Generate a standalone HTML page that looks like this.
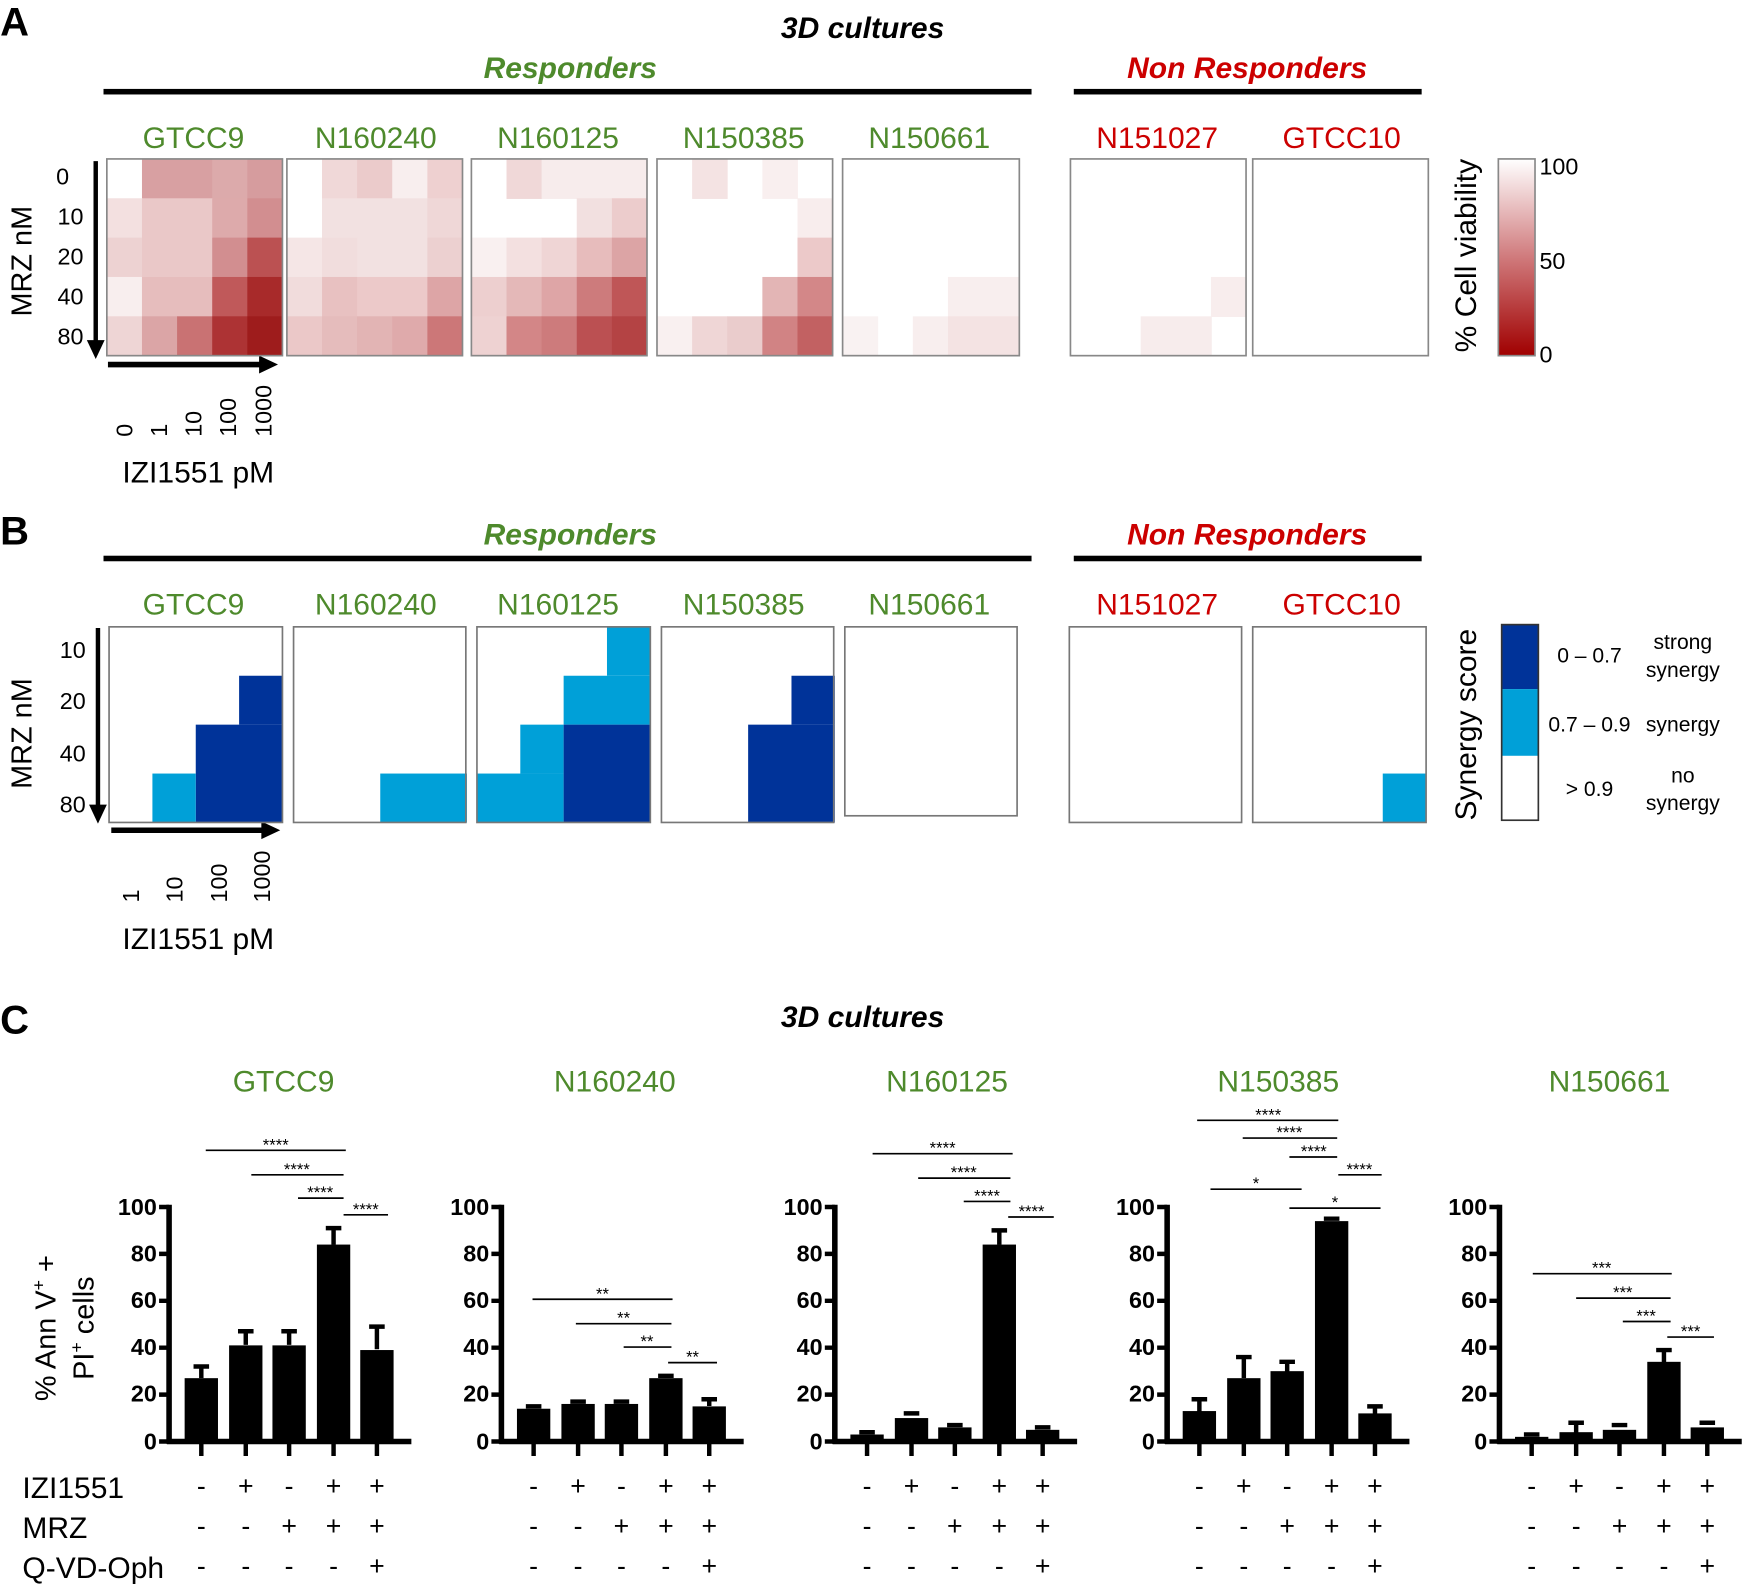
<!DOCTYPE html>
<html><head><meta charset="utf-8"><style>html,body{margin:0;padding:0;background:#fff}svg{display:block}</style></head><body>
<svg width="1743" height="1586" viewBox="0 0 1568 1427" xmlns="http://www.w3.org/2000/svg" font-family="Liberation Sans, Arial, sans-serif">
<rect width="1568" height="1427" fill="#fff"/>
<!-- Panel A -->
<text x="0" y="32" font-size="36" font-weight="bold">A</text>
<text x="776" y="34" font-size="27" font-weight="bold" font-style="italic" text-anchor="middle">3D cultures</text>
<text x="513" y="70" font-size="27" font-weight="bold" font-style="italic" text-anchor="middle" fill="#4e8a2c">Responders</text>
<text x="1122" y="70" font-size="27" font-weight="bold" font-style="italic" text-anchor="middle" fill="#cc0000">Non Responders</text>
<rect x="93" y="80" width="835" height="5"/><rect x="966" y="80" width="313" height="5"/>
<g font-size="27" text-anchor="middle" fill="#4e8a2c">
<text x="174" y="133">GTCC9</text><text x="338" y="133">N160240</text><text x="502" y="133">N160125</text><text x="669" y="133">N150385</text><text x="836" y="133">N150661</text></g>
<g font-size="27" text-anchor="middle" fill="#cc0000"><text x="1041" y="133">N151027</text><text x="1207" y="133">GTCC10</text></g>
<g font-size="21" text-anchor="end"><text x="62" y="166">0</text><text x="75" y="202">10</text><text x="75" y="238">20</text><text x="75" y="274">40</text><text x="75" y="310">80</text></g>
<text transform="translate(28,235) rotate(-90)" font-size="26" text-anchor="middle">MRZ nM</text>
<line x1="86" y1="145" x2="86" y2="308" stroke="#000" stroke-width="4"/><polygon points="78,306 94,306 86,323"/>
<line x1="97" y1="328" x2="235" y2="328" stroke="#000" stroke-width="5"/><polygon points="233,320 233,336 250,328"/>
<g font-size="21"><text transform="translate(119,393) rotate(-90)">0</text><text transform="translate(150,393) rotate(-90)">1</text><text transform="translate(181,393) rotate(-90)">10</text><text transform="translate(212,393) rotate(-90)">100</text><text transform="translate(244,393) rotate(-90)">1000</text></g>
<text x="110" y="434" font-size="27">IZI1551 pM</text>
<!-- heatmaps A -->
<g transform="translate(96,143)">
<rect x="31.6" y="0" width="64" height="36" fill="#d8a0a2"/><rect x="94.8" y="0" width="32" height="36" fill="#dcaaab"/><rect x="126.4" y="0" width="32" height="36" fill="#d69c9e"/>
<rect x="0" y="35.4" width="32" height="36" fill="#f3e0e0"/><rect x="31.6" y="35.4" width="64" height="36" fill="#eac8c8"/><rect x="94.8" y="35.4" width="32" height="36" fill="#ddaaab"/><rect x="126.4" y="35.4" width="32" height="36" fill="#d28e90"/>
<rect x="0" y="70.8" width="32" height="36" fill="#edd2d2"/><rect x="31.6" y="70.8" width="64" height="36" fill="#eac8c8"/><rect x="94.8" y="70.8" width="32" height="36" fill="#d28e90"/><rect x="126.4" y="70.8" width="32" height="36" fill="#bb5152"/>
<rect x="0" y="106.2" width="32" height="36" fill="#f8eeee"/><rect x="31.6" y="106.2" width="64" height="36" fill="#e6bdbd"/><rect x="94.8" y="106.2" width="32" height="36" fill="#c0595a"/><rect x="126.4" y="106.2" width="32" height="36" fill="#a82a2a"/>
<rect x="0" y="141.6" width="32" height="35.4" fill="#eed5d5"/><rect x="31.6" y="141.6" width="32" height="35.4" fill="#dba5a6"/><rect x="63.2" y="141.6" width="32" height="35.4" fill="#c97273"/><rect x="94.8" y="141.6" width="32" height="35.4" fill="#ad3334"/><rect x="126.4" y="141.6" width="32" height="35.4" fill="#9e1c1c"/>
<rect x="0" y="0" width="158" height="177" fill="none" stroke="#888" stroke-width="1.5"/></g>
<g transform="translate(258,143)">
<rect x="31.6" y="0" width="32" height="36" fill="#f0d8d8"/><rect x="63.2" y="0" width="32" height="36" fill="#ebcbcb"/><rect x="94.8" y="0" width="32" height="36" fill="#f8eeee"/><rect x="126.4" y="0" width="32" height="36" fill="#eed0d0"/>
<rect x="31.6" y="35.4" width="96" height="36" fill="#f2e1e1"/><rect x="126.4" y="35.4" width="32" height="36" fill="#efd7d7"/>
<rect x="0" y="70.8" width="32" height="36" fill="#f5e6e6"/><rect x="31.6" y="70.8" width="32" height="36" fill="#f1dddd"/><rect x="63.2" y="70.8" width="64" height="36" fill="#f2e1e1"/><rect x="126.4" y="70.8" width="32" height="36" fill="#ecd0d0"/>
<rect x="0" y="106.2" width="32" height="36" fill="#f1dcdc"/><rect x="31.6" y="106.2" width="32" height="36" fill="#e8c1c1"/><rect x="63.2" y="106.2" width="64" height="36" fill="#ecc9c9"/><rect x="126.4" y="106.2" width="32" height="36" fill="#dda5a6"/>
<rect x="0" y="141.6" width="32" height="35.4" fill="#ebc8c8"/><rect x="31.6" y="141.6" width="32" height="35.4" fill="#e5bcbc"/><rect x="63.2" y="141.6" width="32" height="35.4" fill="#e2b4b4"/><rect x="94.8" y="141.6" width="32" height="35.4" fill="#dfaaab"/><rect x="126.4" y="141.6" width="32" height="35.4" fill="#cc7778"/>
<rect x="0" y="0" width="158" height="177" fill="none" stroke="#888" stroke-width="1.5"/></g>
<g transform="translate(424,143)">
<rect x="31.6" y="0" width="32" height="36" fill="#f0d8d8"/><rect x="63.2" y="0" width="95" height="36" fill="#f7ecec"/>
<rect x="94.8" y="35.4" width="32" height="36" fill="#f2e0e0"/><rect x="126.4" y="35.4" width="32" height="36" fill="#eccccc"/>
<rect x="0" y="70.8" width="32" height="36" fill="#f9f0f0"/><rect x="31.6" y="70.8" width="32" height="36" fill="#f3e0e0"/><rect x="63.2" y="70.8" width="32" height="36" fill="#efd5d5"/><rect x="94.8" y="70.8" width="32" height="36" fill="#e7bcbc"/><rect x="126.4" y="70.8" width="32" height="36" fill="#dca4a5"/>
<rect x="0" y="106.2" width="32" height="36" fill="#edcfcf"/><rect x="31.6" y="106.2" width="32" height="36" fill="#e4b8b8"/><rect x="63.2" y="106.2" width="32" height="36" fill="#dea5a6"/><rect x="94.8" y="106.2" width="32" height="36" fill="#cd7b7c"/><rect x="126.4" y="106.2" width="32" height="36" fill="#bf5657"/>
<rect x="0" y="141.6" width="32" height="35.4" fill="#eed2d2"/><rect x="31.6" y="141.6" width="32" height="35.4" fill="#d38687"/><rect x="63.2" y="141.6" width="32" height="35.4" fill="#cd7b7c"/><rect x="94.8" y="141.6" width="32" height="35.4" fill="#bb5052"/><rect x="126.4" y="141.6" width="32" height="35.4" fill="#b44344"/>
<rect x="0" y="0" width="158" height="177" fill="none" stroke="#888" stroke-width="1.5"/></g>
<g transform="translate(591,143)">
<rect x="31.6" y="0" width="32" height="36" fill="#f4e3e3"/><rect x="94.8" y="0" width="32" height="36" fill="#f9efef"/>
<rect x="126.4" y="35.4" width="32" height="36" fill="#f8eded"/><rect x="126.4" y="70.8" width="32" height="36" fill="#ecc9c9"/>
<rect x="94.8" y="106.2" width="32" height="36" fill="#e3b5b5"/><rect x="126.4" y="106.2" width="32" height="36" fill="#d38788"/>
<rect x="0" y="141.6" width="32" height="35.4" fill="#f9f0f0"/><rect x="31.6" y="141.6" width="32" height="35.4" fill="#efd6d6"/><rect x="63.2" y="141.6" width="32" height="35.4" fill="#eacccc"/><rect x="94.8" y="141.6" width="32" height="35.4" fill="#d18384"/><rect x="126.4" y="141.6" width="32" height="35.4" fill="#c26162"/>
<rect x="0" y="0" width="158" height="177" fill="none" stroke="#888" stroke-width="1.5"/></g>
<g transform="translate(758,143)">
<rect x="94.8" y="106.2" width="64" height="36" fill="#f8eeee"/>
<rect x="0" y="141.6" width="32" height="35.4" fill="#f9f2f2"/><rect x="63.2" y="141.6" width="32" height="35.4" fill="#f8eeee"/><rect x="94.8" y="141.6" width="64" height="35.4" fill="#f4e3e3"/>
<rect x="0" y="0" width="159" height="177" fill="none" stroke="#888" stroke-width="1.5"/></g>
<g transform="translate(963,143)">
<rect x="126.4" y="106.2" width="32" height="36" fill="#f8eded"/><rect x="63.2" y="141.6" width="64" height="35.4" fill="#f7ecec"/>
<rect x="0" y="0" width="158" height="177" fill="none" stroke="#888" stroke-width="1.5"/></g>
<rect x="1127" y="143" width="158" height="177" fill="none" stroke="#888" stroke-width="1.5"/>
<defs><linearGradient id="cv" x1="0" y1="0" x2="0" y2="1"><stop offset="0" stop-color="#ffffff"/><stop offset="0.5" stop-color="#d07a7c"/><stop offset="1" stop-color="#a00000"/></linearGradient></defs>
<rect x="1348" y="143" width="33" height="177" fill="url(#cv)" stroke="#888" stroke-width="1.5"/>
<g font-size="21"><text x="1385" y="157">100</text><text x="1385" y="242">50</text><text x="1385" y="326">0</text></g>
<text transform="translate(1328,230) rotate(-90)" font-size="27" text-anchor="middle">% Cell viability</text>
<!-- Panel B -->
<text x="0" y="490" font-size="36" font-weight="bold">B</text>
<text x="513" y="490" font-size="27" font-weight="bold" font-style="italic" text-anchor="middle" fill="#4e8a2c">Responders</text>
<text x="1122" y="490" font-size="27" font-weight="bold" font-style="italic" text-anchor="middle" fill="#cc0000">Non Responders</text>
<rect x="93" y="500" width="835" height="5"/><rect x="966" y="500" width="313" height="5"/>
<g font-size="27" text-anchor="middle" fill="#4e8a2c">
<text x="174" y="553">GTCC9</text><text x="338" y="553">N160240</text><text x="502" y="553">N160125</text><text x="669" y="553">N150385</text><text x="836" y="553">N150661</text></g>
<g font-size="27" text-anchor="middle" fill="#cc0000"><text x="1041" y="553">N151027</text><text x="1207" y="553">GTCC10</text></g>
<g font-size="21" text-anchor="end"><text x="77" y="592">10</text><text x="77" y="638">20</text><text x="77" y="685">40</text><text x="77" y="731">80</text></g>
<text transform="translate(28,660) rotate(-90)" font-size="26" text-anchor="middle">MRZ nM</text>
<line x1="88" y1="565" x2="88" y2="726" stroke="#000" stroke-width="4"/><polygon points="80,724 96,724 88,741"/>
<line x1="100" y1="747" x2="237" y2="747" stroke="#000" stroke-width="5"/><polygon points="235,739 235,755 252,747"/>
<g font-size="21"><text transform="translate(125,812) rotate(-90)">1</text><text transform="translate(164,812) rotate(-90)">10</text><text transform="translate(204,812) rotate(-90)">100</text><text transform="translate(243,812) rotate(-90)">1000</text></g>
<text x="110" y="854" font-size="27">IZI1551 pM</text>
<g transform="translate(98,564)">
<rect x="117" y="44" width="39" height="44" fill="#003399"/><rect x="78" y="88" width="78" height="88" fill="#003399"/><rect x="39" y="132" width="39" height="44" fill="#00a0d8"/>
<rect width="156" height="176" fill="none" stroke="#777" stroke-width="1.5"/></g>
<g transform="translate(264,564)"><rect x="78" y="132" width="78" height="44" fill="#00a0d8"/><rect width="155" height="176" fill="none" stroke="#777" stroke-width="1.5"/></g>
<g transform="translate(429,564)">
<rect x="117" y="0" width="39" height="44" fill="#00a0d8"/><rect x="78" y="44" width="78" height="44" fill="#00a0d8"/><rect x="39" y="88" width="39" height="44" fill="#00a0d8"/><rect x="0" y="132" width="78" height="44" fill="#00a0d8"/><rect x="78" y="88" width="78" height="88" fill="#003399"/>
<rect width="156" height="176" fill="none" stroke="#777" stroke-width="1.5"/></g>
<g transform="translate(595,564)"><rect x="117" y="44" width="39" height="44" fill="#003399"/><rect x="78" y="88" width="78" height="88" fill="#003399"/><rect width="155" height="176" fill="none" stroke="#777" stroke-width="1.5"/></g>
<rect x="760" y="564" width="155" height="170" fill="none" stroke="#777" stroke-width="1.5"/>
<rect x="962" y="564" width="155" height="176" fill="none" stroke="#777" stroke-width="1.5"/>
<g transform="translate(1127,564)"><rect x="117" y="132" width="39" height="44" fill="#00a0d8"/><rect width="156" height="176" fill="none" stroke="#777" stroke-width="1.5"/></g>
<rect x="1351" y="562" width="33" height="58" fill="#003399"/><rect x="1351" y="620" width="33" height="60" fill="#00a0d8"/><rect x="1351" y="562" width="33" height="176" fill="none" stroke="#333" stroke-width="1.5"/>
<g font-size="19" text-anchor="middle"><text x="1430" y="596">0 – 0.7</text><text x="1430" y="658">0.7 – 0.9</text><text x="1430" y="716">&gt; 0.9</text>
<text x="1514" y="584">strong</text><text x="1514" y="609">synergy</text><text x="1514" y="658">synergy</text><text x="1514" y="704">no</text><text x="1514" y="729">synergy</text></g>
<text transform="translate(1328,652) rotate(-90)" font-size="27" text-anchor="middle">Synergy score</text>
<!-- Panel C -->
<text x="0" y="930" font-size="36" font-weight="bold">C</text>
<text x="776" y="924" font-size="27" font-weight="bold" font-style="italic" text-anchor="middle">3D cultures</text>
<g font-size="27" text-anchor="middle" fill="#4e8a2c"><text x="255" y="982">GTCC9</text><text x="553" y="982">N160240</text><text x="852" y="982">N160125</text><text x="1150" y="982">N150385</text><text x="1448" y="982">N150661</text></g>
<g font-size="26" text-anchor="middle"><text transform="translate(50,1195) rotate(-90)">% Ann V<tspan font-size="16" dy="-10">+</tspan><tspan dy="10"> +</tspan></text><text transform="translate(84,1195) rotate(-90)">PI<tspan font-size="16" dy="-10">+</tspan><tspan dy="10"> cells</tspan></text></g>
<g font-size="27"><text x="20" y="1348">IZI1551</text><text x="20" y="1384">MRZ</text><text x="20" y="1420">Q-VD-Oph</text></g>
<defs>
<g id="axes">
<line x1="0" y1="1084" x2="0" y2="1299" stroke="#000" stroke-width="5"/>
<line x1="-2" y1="1297" x2="218" y2="1297" stroke="#000" stroke-width="5"/>
<path d="M-9 1086H0M-9 1128.2H0M-9 1170.4H0M-9 1212.6H0M-9 1254.8H0M-9 1297H0M29 1297V1310M69 1297V1310M108 1297V1310M148 1297V1310M187 1297V1310" stroke="#000" stroke-width="4"/>
<g font-size="21" font-weight="bold" text-anchor="end"><text x="-11" y="1093">100</text><text x="-11" y="1135">80</text><text x="-11" y="1177">60</text><text x="-11" y="1219">40</text><text x="-11" y="1261">20</text><text x="-11" y="1304">0</text></g>
<g font-size="24" text-anchor="middle"><text x="29" y="1345">-</text><text x="69" y="1345">+</text><text x="108" y="1345">-</text><text x="148" y="1345">+</text><text x="187" y="1345">+</text>
<text x="29" y="1381">-</text><text x="69" y="1381">-</text><text x="108" y="1381">+</text><text x="148" y="1381">+</text><text x="187" y="1381">+</text>
<text x="29" y="1417">-</text><text x="69" y="1417">-</text><text x="108" y="1417">-</text><text x="148" y="1417">-</text><text x="187" y="1417">+</text></g>
</g></defs>
<g transform="translate(152,0)"><use href="#axes"/>
<rect x="14" y="1240" width="30" height="57"/><rect x="54" y="1210.5" width="30" height="86.5"/><rect x="93" y="1210.5" width="30" height="86.5"/><rect x="133" y="1119.8" width="30" height="177.2"/><rect x="172" y="1214.7" width="30" height="82.3"/>
<path d="M29 1240V1229.5M22 1229.5H36M69 1210V1197.8M62 1197.8H76M108 1210V1197.8M101 1197.8H115M148 1120V1105M141 1105H155M187 1214V1193.6M180 1193.6H194" stroke="#000" stroke-width="4"/></g>
<g transform="translate(451,0)"><use href="#axes"/>
<rect x="14" y="1267.5" width="30" height="29.5"/><rect x="54" y="1263.2" width="30" height="33.8"/><rect x="93" y="1263.2" width="30" height="33.8"/><rect x="133" y="1240" width="30" height="57"/><rect x="172" y="1265.4" width="30" height="31.6"/>
<path d="M22 1265.4H36M62 1261.1H76M101 1261.1H115M141 1237.9H155M187 1265V1259M180 1259H194" stroke="#000" stroke-width="4"/></g>
<g transform="translate(751,0)"><use href="#axes"/>
<rect x="14" y="1290.7" width="30" height="6.3"/><rect x="54" y="1275.9" width="30" height="21.1"/><rect x="93" y="1284.3" width="30" height="12.7"/><rect x="133" y="1119.8" width="30" height="177.2"/><rect x="172" y="1286.5" width="30" height="10.5"/>
<path d="M22 1288.6H36M62 1271.7H76M101 1282.2H115M148 1120V1107M141 1107H155M180 1284.3H194" stroke="#000" stroke-width="4"/></g>
<g transform="translate(1050,0)"><use href="#axes"/>
<rect x="14" y="1269.6" width="30" height="27.4"/><rect x="54" y="1240" width="30" height="57"/><rect x="93" y="1233.7" width="30" height="63.3"/><rect x="133" y="1098.7" width="30" height="198.3"/><rect x="172" y="1271.7" width="30" height="25.3"/>
<path d="M29 1270V1259M22 1259H36M69 1240V1221M62 1221H76M108 1234V1225.3M101 1225.3H115M141 1096.5H155M187 1272V1265.4M180 1265.4H194" stroke="#000" stroke-width="4"/></g>
<g transform="translate(1349,0)"><use href="#axes"/>
<rect x="14" y="1292.8" width="30" height="4.2"/><rect x="54" y="1288.6" width="30" height="8.4"/><rect x="93" y="1286.5" width="30" height="10.5"/><rect x="133" y="1225.3" width="30" height="71.7"/><rect x="172" y="1284.3" width="30" height="12.7"/>
<path d="M22 1290.7H36M69 1289V1280.1M62 1280.1H76M101 1282.2H115M148 1226V1214.7M141 1214.7H155M180 1280.1H194" stroke="#000" stroke-width="4"/></g>
<!-- significance -->
<g stroke="#000" stroke-width="1.5">
<path d="M185 1035H311M226 1057H309M268 1078H309M309 1093H349"/>
<path d="M479 1169H605M518 1191H604M561 1212H604M601 1226H645"/>
<path d="M785 1038H911M826 1060H909M867 1081H909M907 1095H948"/>
<path d="M1077 1008H1204M1118 1024H1203M1160 1041H1203M1204 1057H1243M1089 1070H1171M1160 1087H1242"/>
<path d="M1379 1146H1504M1418 1168H1503M1460 1189H1503M1500 1203H1542"/>
</g>
<g font-size="15" text-anchor="middle">
<text x="248" y="1035">****</text><text x="267" y="1057">****</text><text x="288" y="1078">****</text><text x="329" y="1093">****</text>
<text x="542" y="1169">**</text><text x="561" y="1191">**</text><text x="582" y="1212">**</text><text x="623" y="1226">**</text>
<text x="848" y="1038">****</text><text x="867" y="1060">****</text><text x="888" y="1081">****</text><text x="928" y="1095">****</text>
<text x="1141" y="1008">****</text><text x="1160" y="1024">****</text><text x="1182" y="1041">****</text><text x="1223" y="1057">****</text><text x="1130" y="1070">*</text><text x="1201" y="1087">*</text>
<text x="1441" y="1146">***</text><text x="1460" y="1168">***</text><text x="1481" y="1189">***</text><text x="1521" y="1203">***</text>
</g>
</svg>
</body></html>
